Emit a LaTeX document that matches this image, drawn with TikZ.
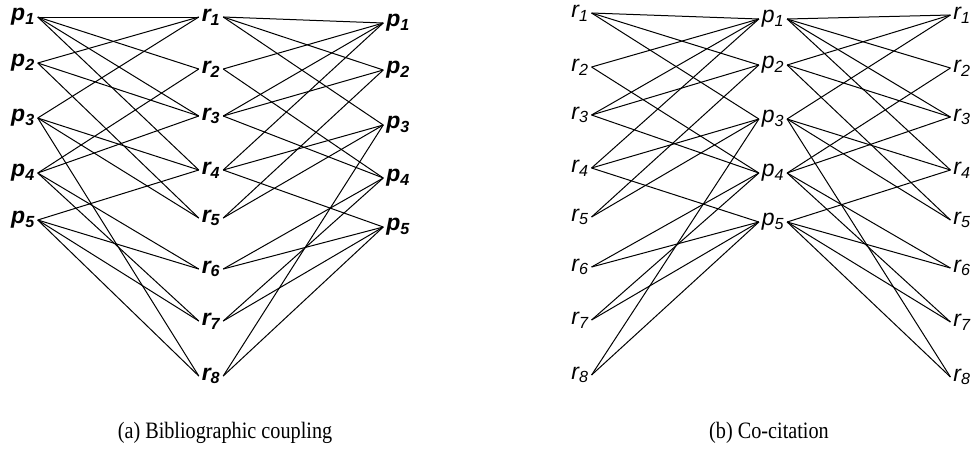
\documentclass[tikz,border=0pt]{standalone}
\usepackage{fontspec}
\setmainfont{Liberation Serif}
\newfontfamily\labelfont{Liberation Sans}
\newfontfamily\capfont[FakeStretch=0.86]{Liberation Serif}
\usepackage{tikz}
\usetikzlibrary{positioning, calc}

\begin{document}
\begin{tikzpicture}[x=1pt, y=-1pt,
    vtxa/.style={inner sep=1pt, outer sep=2pt, font=\labelfont\bfseries\itshape\fontsize{23}{25}\selectfont},
    vtxb/.style={inner sep=1pt, outer sep=2pt, font=\labelfont\itshape\fontsize{23}{25}\selectfont},
    link/.style={line width=1pt, black},
    caption/.style={font=\capfont\fontsize{23.5}{26}\selectfont}]

    \useasboundingbox (0,0) rectangle (975,467);

    % (a) papers on both sides, references in the middle
    \foreach \i/\y in {1/17, 2/63, 3/118, 4/173, 5/220}
        \node[vtxa] (pa\i) at (23,\y) {p\textsubscript{\i}};
    \foreach \j/\y in {1/17, 2/69, 3/116, 4/170, 5/218, 6/269, 7/321, 8/376}
        \node[vtxa] (ra\j) at (211,\y) {r\textsubscript{\j}};
    \foreach \i/\y in {1/23, 2/70, 3/125, 4/178, 5/227}
        \node[vtxa] (pb\i) at (398,\y) {p\textsubscript{\i}};

    % (b) references on both sides, papers in the middle
    \foreach \j/\y in {1/13, 2/67, 3/115, 4/168, 5/217, 6/267, 7/320, 8/375}
        \node[vtxb] (rc\j) at (580,\y) {r\textsubscript{\j}};
    \foreach \i/\y in {1/19, 2/65, 3/119, 4/173, 5/222}
        \node[vtxb] (pd\i) at (773,\y) {p\textsubscript{\i}};
    \foreach \j/\y in {1/15, 2/68, 3/117, 4/170, 5/220, 6/268, 7/322, 8/377}
        \node[vtxb] (re\j) at (962,\y) {r\textsubscript{\j}};

    % citations p/r
    \foreach \i/\j in {1/1, 1/2, 1/3, 1/4, 2/1, 2/3, 2/5, 3/1, 3/4, 3/5, 3/8,
                       4/2, 4/3, 4/6, 4/7, 5/4, 5/6, 5/7, 5/8} {
        \draw[link] (pa\i.east) -- (ra\j.west);
        \draw[link] (ra\j.east) -- (pb\i.west);
        \draw[link] (rc\j.east) -- (pd\i.west);
        \draw[link] (pd\i.east) -- (re\j.west);
    }

    % captions
    \node[caption] (capa) at (225,433) {(a) Bibliographic coupling};
    \node[caption] (capb) at (769,433) {(b) Co-citation};

\end{tikzpicture}
\end{document}
